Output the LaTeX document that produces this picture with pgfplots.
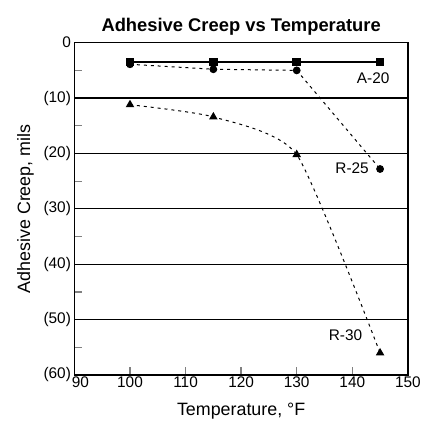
\documentclass[border=0pt]{standalone}
\usepackage{fontspec}
\setmainfont{Liberation Sans}
\usepackage{pgfplots}
\pgfplotsset{compat=1.18}
\usetikzlibrary{calc}

\begin{document}
\begin{tikzpicture}
\begin{axis}[
    scale only axis,
    width=336pt, height=335pt,
    xmin=90, xmax=150,
    ymin=-60, ymax=0,
    axis line style={line width=1.6pt},
    title={\bfseries Adhesive Creep vs Temperature},
    title style={font=\fontsize{18.5}{21}\selectfont, yshift=-2pt},
    xlabel={Temperature, °F},
    ylabel={Adhesive Creep, mils},
    xlabel style={font=\fontsize{18}{21}\selectfont, at={(axis description cs:0.5,0)},
        anchor=north, yshift=-25pt},
    ylabel style={font=\fontsize{18}{21}\selectfont, yshift=3pt},
    tick label style={font=\fontsize{15.5}{18}\selectfont},
    xticklabel style={yshift=2pt},
    xtick={90,100,...,150},
    xticklabels={\hspace{12pt}90,100,110,120,130,140,150\hspace{8pt}},
    ytick={-60,-50,...,0},
    yticklabels={\raisebox{4pt}{(60)},(50),(40),(30),(20),(10),0},
    minor ytick={-55,-45,...,-5},
    xtick pos=bottom, ytick pos=left,
    tick align=inside,
    major tick length=8pt, minor tick length=8pt,
    major tick style={line width=1.3pt},
    minor tick style={line width=1.3pt},
    ymajorgrids,
    major grid style={line width=1.2pt, black},
    major y tick style={draw=none},
    clip=false,
]
% A-20
\addplot[black, line width=1.3pt, mark=square*, mark size=3.6pt] coordinates {
    (100,-3.5) (115,-3.5) (130,-3.5) (145,-3.5)
};
% R-25
\addplot[black, line width=1pt, dash pattern=on 3pt off 4pt, mark=*, mark size=3.4pt,
    mark options={solid}] coordinates {
    (100,-3.9) (115,-4.8) (130,-5.0) (145,-22.8)
};
% R-30
\addplot[black, line width=1pt, dash pattern=on 3pt off 4pt, smooth, tension=0.35,
    mark=triangle*, mark size=4pt, mark options={solid}] coordinates {
    (100,-11.2) (115,-13.4) (130,-20.2) (145,-56)
};
\node[anchor=west, font=\fontsize{15.5}{18}\selectfont] at (axis cs:140.2,-6.4) {A-20};
\node[anchor=east, font=\fontsize{15.5}{18}\selectfont] at (axis cs:143.6,-22.6) {R-25};
\node[anchor=east, font=\fontsize{15.5}{18}\selectfont] at (axis cs:142.4,-52.8) {R-30};
\end{axis}
\path[use as bounding box] ($(current axis.south west)+(-75pt,-45pt)$) rectangle ($(current axis.north east)+(13pt,43pt)$);
\end{tikzpicture}
\end{document}
